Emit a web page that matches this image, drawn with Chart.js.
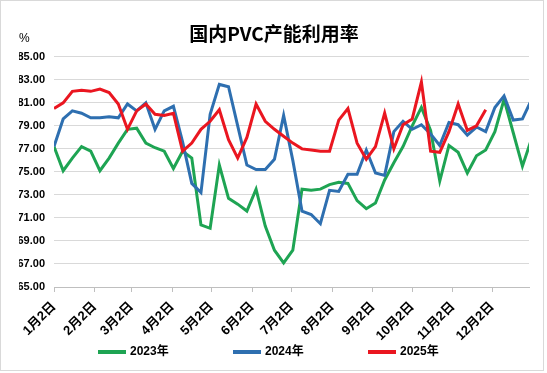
<!DOCTYPE html>
<html>
<head>
<meta charset="utf-8">
<script src="https://cdn.jsdelivr.net/npm/chart.js@4.4.1/dist/chart.umd.min.js"></script>
<style>
  html, body { margin: 0; padding: 0; background: #fff; }
  #wrap { width: 547px; height: 373px; }
</style>
</head>
<body>
<div id="wrap"><canvas id="chart" width="547" height="373"></canvas></div>
<script>
// x = days since Jan 2, one point per week
const monthDays = [0, 31, 59, 90, 120, 151, 181, 212, 243, 273, 304, 334];
const monthLabels = ['1月2日', '2月2日', '3月2日', '4月2日', '5月2日', '6月2日', '7月2日', '8月2日', '9月2日', '10月2日', '11月2日', '12月2日'];
const seriesNames = ['2023年', '2024年', '2025年'];
const colors = ['#1ea453', '#2e6fb0', '#ea1620'];

const rate2023 = [77.2, 75.1, 76.2, 77.2, 76.8, 75.1, 76.2, 77.5, 78.7, 78.8,
  77.5, 77.1, 76.8, 75.3, 76.8, 76.2, 70.4, 70.1, 75.6, 72.7,
  72.2, 71.6, 73.5, 70.3, 68.2, 67.1, 68.2, 73.5, 73.4, 73.5,
  73.9, 74.1, 74.0, 72.5, 71.8, 72.3, 74.3, 75.8, 77.2, 79.0,
  80.6, 78.6, 74.2, 77.3, 76.7, 74.9, 76.4, 76.9, 78.5, 81.3,
  78.4, 75.5, 77.9];
const rate2024 = [77.2, 79.6, 80.3, 80.1, 79.7, 79.7, 79.8, 79.7, 80.9, 80.3,
  81.0, 78.7, 80.3, 80.7, 77.6, 74.0, 73.2, 80.0, 82.6, 82.4,
  79.0, 75.6, 75.2, 75.2, 76.1, 79.9, 76.0, 71.6, 71.3, 70.5,
  73.4, 73.3, 74.8, 74.8, 76.9, 74.9, 74.7, 78.5, 79.4, 78.7,
  79.1, 78.3, 77.3, 79.3, 79.1, 78.2, 78.9, 78.5, 80.6, 81.6,
  79.5, 79.6, 81.3];
const rate2025 = [80.5, 81.0, 82.0, 82.1, 82.0, 82.2, 81.9, 80.9, 78.7, 80.3,
  80.9, 80.0, 79.9, 80.1, 76.8, 77.5, 78.7, 79.4, 80.4, 77.8,
  76.2, 78.0, 80.9, 79.4, 78.7, 78.1, 77.5, 77.0, 76.9, 76.8,
  76.8, 79.5, 80.5, 77.5, 76.1, 77.2, 80.1, 77.0, 79.1, 79.6,
  82.8, 76.8, 76.7, 78.5, 80.9, 78.6, 79.0, 80.4];

const weekly = vals => vals.map((y, i) => ({ x: i * 7, y }));
const fam = "'Liberation Sans', 'Noto Sans CJK SC', sans-serif";

// frame, "%" unit and the legend row
const decor = {
  id: 'decor',
  afterDraw(chart) {
    const ctx = chart.ctx;
    ctx.save();
    ctx.strokeStyle = '#d9d9d9';
    ctx.lineWidth = 1;
    ctx.strokeRect(0.5, 0.5, 543, 370);
    ctx.fillStyle = '#000';
    ctx.font = "12px 'Liberation Sans', sans-serif";
    ctx.textBaseline = 'middle';
    ctx.textAlign = 'left';
    ctx.fillText('%', 19, 39);
    ctx.font = 'bold 12px ' + fam;
    chart.data.datasets.forEach((ds, i) => {
      const x = 98 + i * 135, y = 352;
      ctx.strokeStyle = ds.borderColor;
      ctx.lineWidth = 4;
      ctx.beginPath(); ctx.moveTo(x, y); ctx.lineTo(x + 28, y); ctx.stroke();
      ctx.fillText(ds.label, x + 32, y);
    });
    ctx.restore();
  }
};

new Chart(document.getElementById('chart'), {
  type: 'line',
  data: {
    datasets: [rate2023, rate2024, rate2025].map((vals, i) => ({
      label: seriesNames[i],
      data: weekly(vals),
      borderColor: colors[i],
      backgroundColor: colors[i],
      borderWidth: 3,
      pointRadius: 0,
      tension: 0,
      fill: false,
      order: 2 - i,
    })),
  },
  options: {
    responsive: false,
    animation: false,
    devicePixelRatio: 1,
    layout: { padding: { left: 19, right: 18, top: 0, bottom: 0 } },
    plugins: {
      legend: { display: false },
      tooltip: { enabled: false },
      title: {
        display: true,
        text: '国内PVC产能利用率',
        color: '#000',
        font: { family: "'Noto Sans CJK SC', sans-serif", size: 19, weight: 'bold' },
        padding: { top: 22, bottom: 12 },
      },
    },
    scales: {
      x: {
        type: 'linear',
        min: 0,
        max: 362,
        afterBuildTicks: s => { s.ticks = monthDays.map(v => ({ value: v })); },
        afterFit: s => { s.height = 86; },
        ticks: {
          autoSkip: false, minRotation: 45, maxRotation: 45, padding: 7,
          color: '#000', font: { family: fam, size: 13, weight: 'bold' },
          callback: (v, i) => monthLabels[i],
        },
        grid: { drawOnChartArea: false, drawTicks: true, tickLength: 5, color: '#bfbfbf' },
        border: { color: '#bfbfbf' },
      },
      y: {
        min: 65,
        max: 85,
        afterFit: s => { s.width = 35; },
        ticks: { stepSize: 2, padding: 9, color: '#000', font: { family: fam, size: 11, weight: 'bold' }, callback: v => v.toFixed(2) },
        grid: { color: '#d9d9d9', drawTicks: false },
        border: { display: false },
      },
    },
  },
  plugins: [decor],
});
</script>
</body>
</html>
